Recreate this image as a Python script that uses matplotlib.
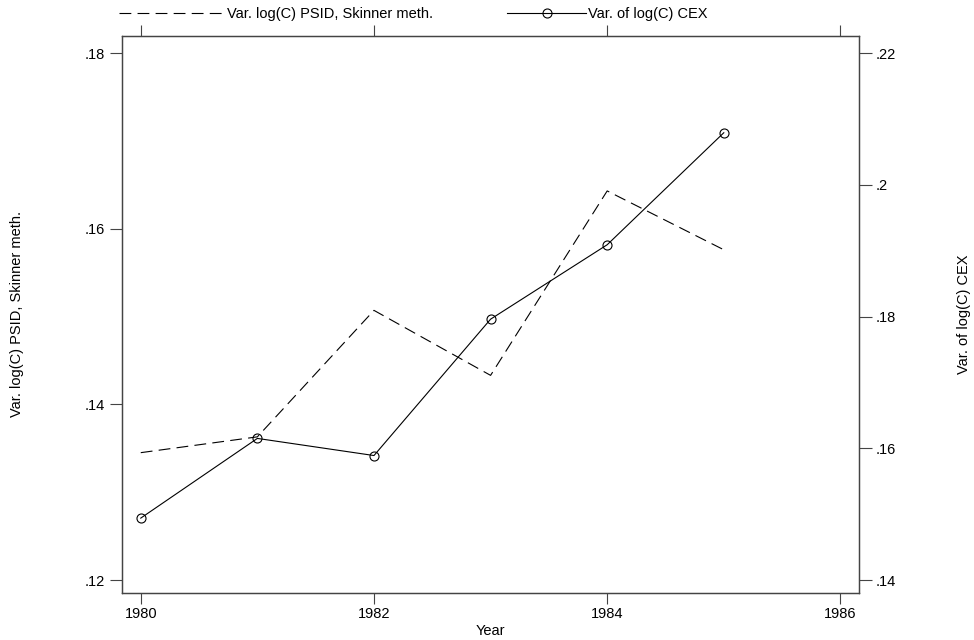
import matplotlib
matplotlib.use("Agg")
import matplotlib.pyplot as plt

plt.rcParams['font.family'] = ['Liberation Sans Narrow', 'Liberation Sans', 'DejaVu Sans']
plt.rcParams['lines.scale_dashes'] = False

years = [1980, 1981, 1982, 1983, 1984, 1985]
psid_skinner = [0.1345, 0.1363, 0.1507, 0.1433, 0.1643, 0.1576]
cex = [0.1494, 0.1615, 0.1589, 0.1796, 0.1909, 0.2079]

x_ticks = [1980, 1982, 1984, 1986]
left_ticks = [0.12, 0.14, 0.16, 0.18]
left_labels = ['.12', '.14', '.16', '.18']
right_ticks = [0.14, 0.16, 0.18, 0.20, 0.22]
right_labels = ['.14', '.16', '.18', '.2', '.22']

label_psid = 'Var. log(C) PSID, Skinner meth.'
label_cex = 'Var. of log(C) CEX'

FS = 10.5
fig = plt.figure(figsize=(9.74, 6.4), dpi=100)
ax = fig.add_axes([0.125, 0.0734, 0.757, 0.8708])
ax2 = ax.twinx()

frame_col = '#444444'
l1, = ax.plot(years, psid_skinner, color='black', lw=0.8, dashes=(8.5, 4.5))
l2, = ax2.plot(years, cex, color='black', lw=0.8, marker='o', markersize=6.5,
               markerfacecolor='none', markeredgewidth=0.8)

ax.set_xlim(1979.837, 1986.16)
ax.set_ylim(0.11852, 0.18197)
ax2.set_ylim(0.13803, 0.22263)

ax.set_xticks(x_ticks)
ax.set_xticklabels([str(t) for t in x_ticks])
ax.set_yticks(left_ticks)
ax.set_yticklabels(left_labels)
ax2.set_yticks(right_ticks)
ax2.set_yticklabels(right_labels)

ax.tick_params(axis='x', which='both', top=True, labeltop=False, direction='out',
               length=8, width=0.8, color=frame_col, labelsize=FS, pad=2)
ax.tick_params(axis='y', direction='out', length=9, width=0.8, color=frame_col,
               labelsize=FS, pad=3)
ax2.tick_params(axis='y', direction='out', length=9, width=0.8, color=frame_col,
                labelsize=FS, pad=3)

for a in (ax, ax2):
    for s in a.spines.values():
        s.set_color(frame_col)
        s.set_linewidth(0.9)

ax.set_xlabel('Year', fontsize=FS, labelpad=2)
ax.set_ylabel(label_psid, fontsize=FS, labelpad=44)
ax2.set_ylabel(label_cex, fontsize=FS, labelpad=44)

leg1 = fig.legend([l1], [label_psid], loc='center left',
                  bbox_to_anchor=(0.122, 0.978), frameon=False, fontsize=FS,
                  handlelength=7.3, handletextpad=0.15, borderpad=0,
                  borderaxespad=0)
leg2 = fig.legend([l2], [label_cex], loc='center left',
                  bbox_to_anchor=(0.521, 0.978), frameon=False, fontsize=FS,
                  handlelength=5.4, handletextpad=0.15, borderpad=0,
                  borderaxespad=0)

fig.savefig('out.png', dpi=100)
